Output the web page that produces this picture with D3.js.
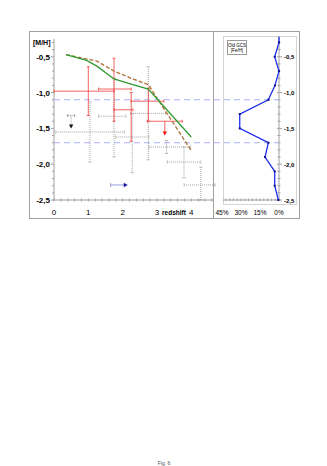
<!DOCTYPE html>
<html>
<head>
<meta charset="utf-8">
<script src="https://cdn.jsdelivr.net/npm/d3@7"></script>
<style>
  html, body { margin: 0; padding: 0; background: #fff; }
  svg { display: block; font-family: "Liberation Sans", Arial, sans-serif; }
</style>
</head>
<body>
<svg id="fig" width="327" height="466"></svg>
<script>
/* ---- data -------------------------------------------------------------- */
var mhTicks = [-0.5, -1.0, -1.5, -2.0, -2.5];
var zTicks = [0, 1, 2, 3, 4];
var pctTicks = [45, 30, 15, 0];

// model tracks: redshift vs [M/H]
var greenZ = [0.35, 0.95, 1.25, 1.75, 2.25, 2.75, 4.0];
var greenM = [-0.47, -0.55, -0.63, -0.81, -0.88, -0.95, -1.62];
var brownZ = [0.35, 1.25, 1.75, 2.25, 2.75, 4.0];
var brownM = [-0.47, -0.56, -0.70, -0.80, -0.89, -1.81];

// red bars: [z, zlo, zhi, m, mlo, mhi]
var redBars = [
  [1.0, 0.0, 1.75, -0.98, -1.32, -0.64],
  [1.75, 1.3, 2.25, -0.95, -1.40, -0.52],
  [2.25, 1.75, 2.3, -1.24, -1.68, -1.0],
  [2.75, 2.25, 3.2, -1.12, -1.40, -0.94]
];
// red upper limit: [z, zlo, zhi, m, arrow tip]
var redLimits = [[3.23, 2.72, 3.74, -1.40, -1.60]];

// grey dotted bars: [z, zlo, zhi, m, mlo, mhi]
var greyBars = [
  [1.05, 0.05, 2.05, -1.55, -1.97, -1.13],
  [1.75, 1.3, 2.1, -1.33, -1.90, -0.80],
  [2.28, 1.8, 2.77, -1.62, -2.12, -1.29],
  [2.75, 2.24, 3.26, -1.29, -1.94, -0.64],
  [3.28, 2.77, 3.98, -1.76, -1.85, -1.67],
  [3.79, 3.3, 4.28, -1.97, -2.19, -1.76],
  [4.28, 3.79, 4.7, -2.29, -2.5, -2.04]
];
// black upper limit: [z, zlo, zhi, m, arrow tip]
var blackLimits = [[0.5, 0.4, 0.6, -1.32, -1.50]];
// redshift lower limit: [zlo, ztip, m]
var zLimits = [[1.65, 2.15, -2.29]];

// reference levels (dashed)
var refLevels = [-1.1, -1.7];

// old GCS [Fe/H] distribution
var gcsFeH = [-0.22, -0.3, -0.5, -0.7, -0.9, -1.1, -1.3, -1.5, -1.7, -1.9, -2.1, -2.3, -2.5];
var gcsPct = [0, 0, 3.4, 0, 3.2, 8.4, 31, 31, 8.4, 11, 3.4, 3.4, 0.5];

/* ---- layout ------------------------------------------------------------ */
var svg = d3.select('#fig');
var fmt = function (v) { return d3.format('.1f')(v).replace('.', ',').replace('−', '-'); };

var y = d3.scaleLinear().domain([-2.5, -0.25]).range([200, 38.9]);
var x = d3.scaleLinear().domain([0, 4.65]).range([54, 213.5]);
var xp = d3.scaleLinear().domain([0, 45]).range([279, 222]);

var GRID = '#a0a0a0';

// frames
svg.append('rect').attr('x', 29.5).attr('y', 31.5).attr('width', 270).attr('height', 187)
  .attr('fill', 'none').attr('stroke', GRID).attr('stroke-width', 1);
svg.append('line').attr('x1', 213.5).attr('x2', 213.5).attr('y1', 31.5).attr('y2', 218.5)
  .attr('stroke', GRID);
svg.append('rect').attr('x', 223.5).attr('y', 36.5).attr('width', 73).attr('height', 168)
  .attr('fill', 'none').attr('stroke', '#d4d4d4');

/* ---- left panel axes --------------------------------------------------- */
var gl = svg.append('g');
gl.append('line').attr('x1', x(0)).attr('x2', x(0)).attr('y1', y(-0.25)).attr('y2', y(-2.5))
  .attr('stroke', GRID);
gl.append('line').attr('x1', x(0)).attr('x2', x(4.65)).attr('y1', y(-2.5)).attr('y2', y(-2.5))
  .attr('stroke', GRID);
d3.range(-2.5, -0.25, 0.1).forEach(function (m) {
  var major = Math.abs(m * 2 - Math.round(m * 2)) < 1e-6;
  gl.append('line').attr('x1', x(0) - (major ? 3 : 2)).attr('x2', x(0))
    .attr('y1', y(m)).attr('y2', y(m)).attr('stroke', GRID);
});
d3.range(0, 4.65, 0.2).forEach(function (z) {
  gl.append('line').attr('x1', x(z)).attr('x2', x(z))
    .attr('y1', y(-2.5) - 1.5).attr('y2', y(-2.5) + 1.5).attr('stroke', GRID);
});
gl.selectAll('text.ym').data(mhTicks).enter().append('text')
  .attr('x', x(0) - 4).attr('y', function (d) { return y(d) + 3; })
  .attr('text-anchor', 'end').attr('font-size', 8).attr('font-weight', 'bold')
  .text(fmt);
gl.selectAll('text.zt').data(zTicks).enter().append('text')
  .attr('x', function (d) { return x(d); }).attr('y', 215)
  .attr('text-anchor', 'middle').attr('font-size', 8).text(function (d) { return d; });
gl.append('text').attr('x', 174).attr('y', 214.5).attr('text-anchor', 'middle')
  .attr('font-size', 6.5).attr('font-weight', 'bold').text('redshift');
gl.append('text').attr('x', 33).attr('y', 44.5).attr('font-size', 7).attr('font-weight', 'bold')
  .text('[M/H]');

/* ---- right panel axes -------------------------------------------------- */
var gr = svg.append('g');
gr.append('line').attr('x1', xp(0)).attr('x2', xp(0)).attr('y1', 36.5).attr('y2', y(-2.5))
  .attr('stroke', GRID);
gr.append('line').attr('x1', 223).attr('x2', xp(0)).attr('y1', y(-2.5)).attr('y2', y(-2.5))
  .attr('stroke', GRID);
d3.range(-2.5, -0.2, 0.1).forEach(function (m) {
  var major = Math.abs(m * 2 - Math.round(m * 2)) < 1e-6;
  gr.append('line').attr('x1', xp(0) - (major ? 2 : 1.5)).attr('x2', xp(0) + (major ? 3 : 1.5))
    .attr('y1', y(m)).attr('y2', y(m)).attr('stroke', GRID);
});
d3.range(0, 44, 3).forEach(function (p) {
  gr.append('line').attr('x1', xp(p)).attr('x2', xp(p))
    .attr('y1', y(-2.5) - 1.5).attr('y2', y(-2.5) + 1).attr('stroke', GRID);
});
gr.selectAll('text.ym').data(mhTicks).enter().append('text')
  .attr('x', xp(0) + 5).attr('y', function (d) { return y(d) + 2.5; })
  .attr('font-size', 6).attr('font-weight', 'bold').text(fmt);
gr.selectAll('text.pt').data(pctTicks).enter().append('text')
  .attr('x', function (d) { return xp(d); }).attr('y', 215)
  .attr('text-anchor', 'middle').attr('font-size', 6.5).text(function (d) { return d + '%'; });
var lg = gr.append('g');
lg.append('rect').attr('x', 227.5).attr('y', 40.5).attr('width', 19).attr('height', 14)
  .attr('fill', '#fff').attr('stroke', '#999');
lg.append('text').attr('x', 237).attr('y', 46.5).attr('text-anchor', 'middle')
  .attr('font-size', 4.5).text('Old GCS');
lg.append('text').attr('x', 237).attr('y', 52).attr('text-anchor', 'middle')
  .attr('font-size', 4.5).text('[Fe/H]');

/* ---- dashed reference levels ------------------------------------------ */
svg.selectAll('line.ref').data(refLevels).enter().append('line')
  .attr('x1', x(0)).attr('x2', xp(0))
  .attr('y1', function (d) { return y(d); }).attr('y2', function (d) { return y(d); })
  .attr('stroke', '#a9b0ff').attr('stroke-width', 1).attr('stroke-dasharray', '6,4');

/* ---- error bars -------------------------------------------------------- */
function bars(rows, color, dash, cls) {
  var g = svg.append('g').attr('stroke', color).attr('stroke-width', 0.8)
    .attr('stroke-dasharray', dash);
  rows.forEach(function (r) {
    g.append('line').attr('x1', x(r[1])).attr('x2', x(r[2])).attr('y1', y(r[3])).attr('y2', y(r[3]));
    g.append('line').attr('x1', x(r[0])).attr('x2', x(r[0])).attr('y1', y(r[4])).attr('y2', y(r[5]));
    [r[1], r[2]].forEach(function (z) {
      g.append('line').attr('x1', x(z)).attr('x2', x(z)).attr('y1', y(r[3]) - 1.5).attr('y2', y(r[3]) + 1.5)
        .attr('stroke-dasharray', null);
    });
    [r[4], r[5]].forEach(function (m) {
      g.append('line').attr('x1', x(r[0]) - 1.5).attr('x2', x(r[0]) + 1.5).attr('y1', y(m)).attr('y2', y(m))
        .attr('stroke-dasharray', null);
    });
  });
}
bars(greyBars, '#8a8a8a', '1,1');
bars(redBars, '#f23c3c', null);

function limits(rows, color, headColor, dash) {
  var g = svg.append('g');
  rows.forEach(function (r) {
    g.append('line').attr('x1', x(r[1])).attr('x2', x(r[2])).attr('y1', y(r[3])).attr('y2', y(r[3]))
      .attr('stroke', color).attr('stroke-width', 0.8).attr('stroke-dasharray', dash);
    [r[1], r[2]].forEach(function (z) {
      g.append('line').attr('x1', x(z)).attr('x2', x(z)).attr('y1', y(r[3]) - 1.5).attr('y2', y(r[3]) + 1.5)
        .attr('stroke', color).attr('stroke-width', 0.8);
    });
    var tip = y(r[4]), cx = x(r[0]);
    g.append('line').attr('x1', cx).attr('x2', cx).attr('y1', y(r[3])).attr('y2', tip - 3)
      .attr('stroke', color).attr('stroke-width', 0.8).attr('stroke-dasharray', dash);
    g.append('path').attr('d', 'M' + (cx - 2.2) + ',' + (tip - 4) + 'L' + (cx + 2.2) + ',' + (tip - 4) + 'L' + cx + ',' + tip + 'Z')
      .attr('fill', headColor);
  });
}
limits(redLimits, '#f23c3c', '#f01010', null);
limits(blackLimits, '#8a8a8a', '#111', '1,1');

zLimits.forEach(function (r) {
  var y0 = y(r[2]), x0 = x(r[0]), tip = x(r[1]);
  svg.append('line').attr('x1', x0).attr('x2', tip - 3).attr('y1', y0).attr('y2', y0)
    .attr('stroke', '#9aa0e0').attr('stroke-width', 1);
  svg.append('line').attr('x1', x0).attr('x2', x0).attr('y1', y0 - 2).attr('y2', y0 + 2)
    .attr('stroke', '#9aa0e0').attr('stroke-width', 1);
  svg.append('path').attr('d', 'M' + (tip - 4) + ',' + (y0 - 2.2) + 'L' + (tip - 4) + ',' + (y0 + 2.2) + 'L' + tip + ',' + y0 + 'Z')
    .attr('fill', '#1a1a9a');
});

/* ---- model tracks ------------------------------------------------------ */
var line = d3.line().x(function (d) { return x(d[0]); }).y(function (d) { return y(d[1]); });
svg.append('path').datum(d3.zip(brownZ, brownM)).attr('d', line)
  .attr('fill', 'none').attr('stroke', '#b5763f').attr('stroke-width', 1.4)
  .attr('stroke-dasharray', '4,2');
svg.append('path').datum(d3.zip(greenZ, greenM)).attr('d', line)
  .attr('fill', 'none').attr('stroke', '#2f9a2f').attr('stroke-width', 1.3);

/* ---- GCS distribution -------------------------------------------------- */
var pl = d3.line().x(function (d) { return xp(d[1]); }).y(function (d) { return y(d[0]); });
var gcs = d3.zip(gcsFeH, gcsPct);
svg.append('path').datum(gcs).attr('d', pl)
  .attr('fill', 'none').attr('stroke', '#1f2ff0').attr('stroke-width', 1.3);
svg.selectAll('rect.gm').data(gcs.slice(1)).enter().append('rect')
  .attr('x', function (d) { return xp(d[1]) - 1; }).attr('y', function (d) { return y(d[0]) - 1; })
  .attr('width', 2).attr('height', 2).attr('fill', '#10108a');

/* ---- caption ----------------------------------------------------------- */
svg.append('text').attr('x', 164).attr('y', 465).attr('text-anchor', 'middle')
  .attr('font-size', 5).attr('fill', '#555').text('Fig. 6');
</script>
</body>
</html>
